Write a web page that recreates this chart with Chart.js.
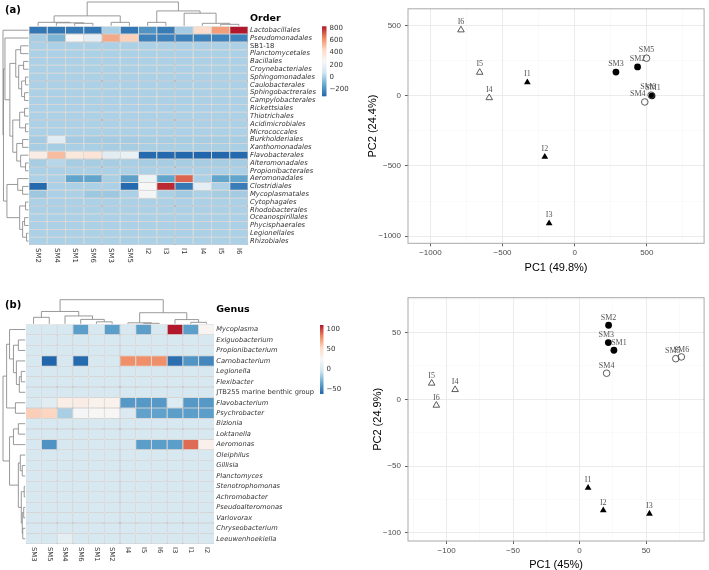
<!DOCTYPE html>
<html><head><meta charset="utf-8">
<script src="https://cdn.jsdelivr.net/npm/chart.js@4.4.1/dist/chart.umd.min.js"></script>
<style>
html,body{margin:0;padding:0;background:#fff;}
#wrap{position:relative;width:709px;height:570px;overflow:hidden;background:#fff;}
canvas{position:absolute;}
.panel{position:absolute;font:bold 10px 'DejaVu Sans',sans-serif;line-height:10px;color:#000;}
</style></head><body>
<div id="wrap">
<canvas id="heatA" width="352" height="285" style="left:0;top:0"></canvas>
<canvas id="heatB" width="352" height="285" style="left:0;top:285px"></canvas>
<canvas id="pcaA" width="369" height="285" style="left:340px;top:0"></canvas>
<canvas id="pcaB" width="369" height="285" style="left:340px;top:285px"></canvas>
<div class="panel" style="left:5px;top:5px">(a)</div>
<div class="panel" style="left:5px;top:300px">(b)</div>
</div>
<script>
// ---------------- DATA ----------------
const orderRows = ['Lactobacillales','Pseudomonadales','SB1-18','Planctomycetales','Bacillales','Croynebacteriales','Sphingomonadales','Caulobacterales','Sphingobactrerales','Campylobacterales','Rickettsiales','Thiotrichales','Acidimicrobiales','Micrococcales','Burkholderiales','Xanthomonadales','Flavobacterales','Alteromonadales','Propionibacterales','Aeromonadales','Clostridiales','Mycoplasmatales','Cytophagales','Rhodobacterales','Oceanospirillales','Phycisphaerales','Legionellales','Rhizobiales'];
const orderCols = ['SM2','SM4','SM1','SM6','SM3','SM5','I2','I3','I1','I4','I5','I6'];
const orderValues = [
  [-265,-270,-260,-265,-5,-265,-185,-255,-15,430,590,828],
  [-10,-85,255,165,565,470,-235,-235,-235,-235,-235,-235],
  [0,0,0,0,0,0,0,0,0,0,0,0],
  [0,0,0,0,0,0,0,0,0,0,0,0],
  [0,0,0,0,0,0,0,0,0,0,0,0],
  [0,0,0,0,0,0,0,0,0,0,0,0],
  [0,0,0,0,0,0,0,0,0,0,0,0],
  [0,0,0,0,0,0,0,0,0,0,0,0],
  [0,0,0,0,0,0,0,0,0,0,0,0],
  [0,0,0,0,0,0,0,0,0,0,0,0],
  [0,0,0,0,0,0,0,0,0,0,0,0],
  [0,0,0,0,0,0,0,0,0,0,0,0],
  [0,0,0,0,0,0,0,0,0,0,0,0],
  [0,0,0,0,0,0,0,0,0,0,0,0],
  [-15,150,-15,-15,-15,-15,-10,-10,-10,-10,-10,-10],
  [-10,-10,-5,-5,-10,-10,-5,-5,-5,-5,-5,-5],
  [330,520,360,390,150,190,-300,-305,-310,-315,-310,-305],
  [-10,20,-10,-10,-10,-5,-10,-10,-10,-10,-10,-10],
  [0,0,0,0,0,0,0,0,0,0,0,0],
  [0,0,-140,-140,-5,-150,210,-140,700,0,-140,-140],
  [-305,0,0,0,0,-305,255,800,-260,165,0,-250],
  [-30,0,0,-25,-25,0,240,0,-20,0,-10,-15],
  [0,0,0,0,0,0,0,0,0,0,0,0],
  [0,0,0,0,0,0,0,0,0,0,0,0],
  [0,0,0,0,0,0,0,0,0,0,0,0],
  [0,0,0,0,0,0,0,0,0,0,0,0],
  [0,0,0,0,0,0,0,0,0,0,0,0],
  [0,0,0,0,0,0,0,0,0,0,0,0]
];
const orderLegendTicks = [-200,0,200,400,600,800];
// dendrograms: [left, right, height]; leaves are row/column indices
const orderColTree = [[[0,[1,[2,3,2.5],3],3.5],[4,5,3.5],10],[[6,7,3.5],[8,[9,[10,11,1.5],2.5],12.7],15],24];
const orderRowTree = [0,[[1,[[[2,3,8],[[4,5,5],[[6,7,3],[8,9,4],7],10],13],[[[10,11,4],[12,13,3],9],[[14,15,6],[16,[17,18,3],8],12],16],19],24],[[19,[20,21,6],11],[[22,23,3],[[24,25,4],[26,27,2],6],9],22],25.5],26];

const genusRows = ['Mycoplasma','Exiguobacterium','Propionibacterium','Carnobacterium','Legionella','Flexibacter','JTB255 marine benthic group','Flavobacterium','Psychrobacter','Bizionia','Loktanella','Aeromonas','Oleiphilus','Gillisia','Planctomyces','Stenotrophomonas','Achromobacter','Pseudoalteromonas','Variovorax','Chryseobacterium','Leeuwenhoekiella'];
const genusCols = ['SM3','SM5','SM4','SM6','SM1','SM2','I4','I5','I6','I3','I1','I2'];
const genusValues = [
  [0,0,0,-38,0,-38,0,-38,0,111,-38,28],
  [0,0,0,0,0,0,0,0,0,0,0,0],
  [0,0,0,0,0,0,0,0,0,0,0,0],
  [0,-62,0,-60,0,0,80,80,80,-58,-42,-48],
  [0,0,0,0,0,0,0,0,0,0,0,0],
  [0,0,0,0,0,0,0,0,0,0,0,0],
  [0,0,0,0,0,0,0,0,0,0,0,0],
  [2,8,35,36,31,31,-40,-40,-40,5,-40,-40],
  [58,55,-15,22,26,26,3,-36,-36,-38,-38,-38],
  [0,0,0,0,0,0,0,0,0,0,0,0],
  [0,0,0,0,0,0,0,0,0,0,0,0],
  [0,-43,0,0,0,0,0,-38,-38,-38,90,32],
  [0,0,0,0,0,0,0,0,0,0,0,0],
  [0,0,0,0,0,0,0,0,0,0,0,0],
  [0,0,0,0,0,0,0,0,0,0,0,0],
  [0,0,0,0,0,0,0,0,0,0,0,0],
  [0,0,0,0,0,0,0,0,0,0,0,0],
  [0,0,0,0,0,0,0,0,0,0,0,0],
  [0,0,0,0,0,0,0,0,0,0,0,0],
  [0,0,0,0,0,0,0,0,0,0,0,0],
  [0,0,10,0,0,0,0,0,0,0,0,0]
];
const genusLegendTicks = [-50,0,50,100];
const genusColTree = [[[0,1,6.6],[2,[3,[4,5,2],4.5],8],12.6],[[6,[7,8,0.5],1],[9,[10,11,1.5],4.3],11.3],24.6];
const genusRowTree = [[[0,[[1,2,7],[3,[[4,5,4],6,6],9],12],16],[7,8,10],19],[[[9,10,7],11,12],[[12,[13,14,3],5],[[15,16,1],[[17,18,1.5],[19,20,2.5],3],4],7],16],22.7];

const sampleNames  = ['SM1','SM2','SM3','SM4','SM5','SM6','I1','I2','I3','I4','I5','I6'];
const sampleGroup  = ['SM','SM','SM','SM','SM','SM','I','I','I','I','I','I'];
const sampleFilled = [1,1,1,0,0,0,1,1,1,0,0,0];
const orderPC1 = [536,436,286,486,498,530,-328,-207,-177,-592,-658,-788];
const orderPC2 = [0,206,169,-44,268,5,96,-435,-909,-14,167,469];
const genusPC1 = [25.8,21.8,21.6,20.3,72.3,76.5,6.4,17.8,52.5,-93.6,-111.2,-107.7];
const genusPC2 = [36.7,55.4,42.4,19.5,30.4,31.7,-66.2,-83.1,-85.6,7.2,12,-4.5];
const orderXMajor = [-1000,-500,0,500], orderXMinor = [-750,-250,250,750];
const orderYMajor = [-1000,-500,0,500], orderYMinor = [-750,-250,250];
const genusXMajor = [-100,-50,0,50], genusXMinor = [-125,-75,-25,25,75];
const genusYMajor = [-100,-50,0,50], genusYMinor = [-75,-25,25,75];

// ---------------- HELPERS ----------------
const palette = ['#2166AC','#67A9CF','#D1E5F0','#F7F7F7','#FDDBC7','#EF8A62','#B2182B'];
function hex(h){return [parseInt(h.slice(1,3),16),parseInt(h.slice(3,5),16),parseInt(h.slice(5,7),16)];}
function colorFor(v,min,max){
  let t=(v-min)/(max-min); t=Math.max(0,Math.min(1,t));
  const s=t*(palette.length-1); const i=Math.min(palette.length-2,Math.floor(s)); const f=s-i;
  const a=hex(palette[i]), b=hex(palette[i+1]);
  return 'rgb('+a.map((c,k)=>Math.round(c+(b[k]-c)*f)).join(',')+')';
}
const fmt = v => v<0 ? '\u2212'+Math.abs(v) : String(v);
const uprightLabels = ['SB1-18','JTB255 marine benthic group'];

function heatChart(id, rows, cols, vals, legendTicks, colTree, rowTree, o){
  const flat = vals.flat(); const vmin=Math.min(...flat), vmax=Math.max(...flat);
  const datasets = rows.map((r,i)=>({
    label:r, data: cols.map(()=>1),
    backgroundColor: vals[i].map(v=>colorFor(v,vmin,vmax)),
    borderColor:'#a3a3a3', borderWidth:0.5, borderSkipped:false, inflateAmount:0,
    barPercentage:1, categoryPercentage:1
  }));
  const extras = {
    id:'heatExtras',
    afterDraw(chart){
      const ctx=chart.ctx, ca=chart.chartArea, xs=chart.scales.x, ys=chart.scales.yRows;
      ctx.save();
      ctx.strokeStyle='#8d8d8d'; ctx.lineWidth=0.9;
      const colMax=colTree[2], rowMax=rowTree[2];
      const colY = h => ca.top - 0.5 - h/colMax*(ca.top - 0.5 - o.treeTop);
      const rowX = h => ca.left - 0.5 - h/rowMax*(ca.left - 0.5 - o.treeLeft);
      function tree(node, posOf, hOf, vertical){
        if (typeof node === 'number') return {p:posOf(node), h:0};
        const a=tree(node[0],posOf,hOf,vertical), b=tree(node[1],posOf,hOf,vertical), H=node[2];
        ctx.beginPath();
        if (vertical){ ctx.moveTo(a.p,hOf(a.h)); ctx.lineTo(a.p,hOf(H)); ctx.lineTo(b.p,hOf(H)); ctx.lineTo(b.p,hOf(b.h)); }
        else { ctx.moveTo(hOf(a.h),a.p); ctx.lineTo(hOf(H),a.p); ctx.lineTo(hOf(H),b.p); ctx.lineTo(hOf(b.h),b.p); }
        ctx.stroke();
        return {p:(a.p+b.p)/2, h:H};
      }
      tree(colTree, j=>xs.getPixelForValue(j), colY, true);
      tree(rowTree, i=>ys.getPixelForValue(i), rowX, false);
      // column labels (rotated, reading downwards)
      ctx.fillStyle='#333'; ctx.font=o.colFont+'px "DejaVu Sans"'; ctx.textAlign='left'; ctx.textBaseline='middle';
      cols.forEach((c,j)=>{ ctx.save(); ctx.translate(xs.getPixelForValue(j), ca.bottom+3); ctx.rotate(Math.PI/2); ctx.fillText(c,0,0); ctx.restore(); });
      // title
      ctx.font='bold 9.5px "DejaVu Sans"'; ctx.fillStyle='#000'; ctx.textBaseline='alphabetic';
      ctx.fillText(o.title, ca.right+2, o.titleY);
      // colour bar
      const top=o.cbTop, bot=o.cbBottom;
      const g=ctx.createLinearGradient(0,bot,0,top);
      palette.forEach((c,k)=>g.addColorStop(k/(palette.length-1),c));
      ctx.fillStyle=g; ctx.fillRect(o.cbX, top, o.cbW, bot-top);
      ctx.fillStyle='#333'; ctx.font='7px "DejaVu Sans"'; ctx.textBaseline='middle'; ctx.textAlign='left';
      legendTicks.forEach(v=>{ const y=top+(vmax-v)/(vmax-vmin)*(bot-top); ctx.fillText(fmt(v), o.cbX+o.cbW+3, y); });
      ctx.restore();
    }
  };
  return new Chart(document.getElementById(id), {
    type:'bar',
    data:{labels:cols, datasets},
    options:{
      responsive:false, animation:false, events:[],
      layout:{padding:{left:o.left, top:o.top, bottom:o.bottom, right:0}},
      plugins:{legend:{display:false}, tooltip:{enabled:false}},
      scales:{
        x:{display:false, stacked:true, offset:true},
        y:{display:false, stacked:true, min:0, max:rows.length, reverse:true},
        yRows:{type:'category', axis:'y', labels:rows, position:'right', offset:true,
          grid:{display:false, drawTicks:false}, border:{display:false},
          ticks:{padding:2, autoSkip:false, color:'#333',
            font: c => ({family:'DejaVu Sans', size:o.rowFont, style: (c.tick && uprightLabels.includes(c.tick.label)) ? 'normal':'italic'})},
          afterFit: s => { s.width = o.axisW; }
        }
      }
    },
    plugins:[extras]
  });
}

function pcaChart(id, pc1, pc2, ax){
  const pts = sampleNames.map((n,i)=>({x:pc1[i], y:pc2[i], name:n, g:sampleGroup[i], f:sampleFilled[i]}));
  const pick = (g,f) => pts.filter(p=>p.g===g && p.f===f);
  const openC='#4a4a4a';
  const datasets = [
    {data:pick('SM',0), pointStyle:'circle', pointRadius:3.3, pointBackgroundColor:'rgba(255,255,255,0)', pointBorderColor:openC, pointBorderWidth:0.9},
    {data:pick('I',0), pointStyle:'triangle', pointRadius:3.8, pointBackgroundColor:'rgba(255,255,255,0)', pointBorderColor:openC, pointBorderWidth:0.9},
    {data:pick('SM',1), pointStyle:'circle', pointRadius:3.4, pointBackgroundColor:'#000', pointBorderColor:'#000', pointBorderWidth:0},
    {data:pick('I',1), pointStyle:'triangle', pointRadius:3.9, pointBackgroundColor:'#000', pointBorderColor:'#000', pointBorderWidth:0}
  ];
  const frame = {id:'frame', beforeDatasetsDraw(chart){const {ctx,chartArea:a}=chart; ctx.save(); ctx.strokeStyle='#a9a9a9'; ctx.lineWidth=1; ctx.strokeRect(a.left,a.top,a.right-a.left,a.bottom-a.top); ctx.restore();}};
  const labels = {id:'ptLabels', afterDatasetsDraw(chart){
    const ctx=chart.ctx; ctx.save(); ctx.font='8px "Liberation Serif"'; ctx.fillStyle='#555'; ctx.textAlign='center'; ctx.textBaseline='middle';
    chart.data.datasets.forEach((ds,di)=>{ chart.getDatasetMeta(di).data.forEach((el,i)=>{
      const n=ds.data[i].name; const d=ax.nudge[n]||[0,0];
      ctx.fillText(n, el.x+d[0], el.y-ax.labelUp+d[1]); }); });
    ctx.restore(); }};
  const axis = (major, minor, min, max, isX) => ({
    type:'linear', min, max, position: isX?'bottom':'left',
    afterBuildTicks: s => { s.ticks = major.concat(minor).sort((a,b)=>a-b).map(v=>({value:v})); },
    afterFit: s => { if(isX) s.height = ax.xH; else s.width = ax.yW; },
    grid:{ color: c => (c.tick && major.includes(c.tick.value)) ? '#e9e9e9' : '#f4f4f4',
           lineWidth: c => (c.tick && major.includes(c.tick.value)) ? 0.9 : 0.5,
           tickColor: c => (c.tick && major.includes(c.tick.value)) ? '#333' : 'rgba(0,0,0,0)',
           tickLength:3, tickWidth:0.8 },
    border:{display:false},
    ticks:{autoSkip:false, maxRotation:0, padding: isX?2:4, color:'#4d4d4d', font:{family:'Liberation Sans', size:8},
           callback: v => major.includes(v) ? fmt(v) : ''},
    title:{display:true, text: isX?ax.xTitle:ax.yTitle, color:'#000', font:{family:'Liberation Sans', size:11, lineHeight:1},
           padding: isX ? {top:0,bottom:ax.xTitlePad} : {top:ax.yTitlePad,bottom:0}}
  });
  return new Chart(document.getElementById(id), {
    type:'scatter', data:{datasets},
    options:{
      responsive:false, animation:false, events:[],
      layout:{padding:{left:0, top:ax.padTop, right:1, bottom:0}},
      plugins:{legend:{display:false}, tooltip:{enabled:false}},
      scales:{
        x: axis(ax.xMajor, ax.xMinor, ax.xmin, ax.xmax, true),
        y: axis(ax.yMajor, ax.yMinor, ax.ymin, ax.ymax, false)
      }
    },
    plugins:[frame, labels]
  });
}

// ---------------- CHARTS ----------------
heatChart('heatA', orderRows, orderCols, orderValues, orderLegendTicks, orderColTree, orderRowTree,
  {left:29, top:26.3, bottom:40, axisW:104, treeTop:2, treeLeft:3, colFont:7, rowFont:6.8,
   title:'Order', titleY:20.7, cbX:322, cbW:4.5, cbTop:26.3, cbBottom:96.3});
heatChart('heatB', genusRows, genusCols, genusValues, genusLegendTicks, genusColTree, genusRowTree,
  {left:25.7, top:39.3, bottom:26, axisW:137.7, treeTop:14.7, treeLeft:3, colFont:6.8, rowFont:6.7,
   title:'Genus', titleY:26.5, cbX:320, cbW:3.5, cbTop:40, cbBottom:109});
pcaChart('pcaA', orderPC1, orderPC2,
  {xmin:-1155, xmax:897, ymin:-1051, ymax:620, xMajor:orderXMajor, xMinor:orderXMinor, yMajor:orderYMajor, yMinor:orderYMinor,
   xTitle:'PC1 (49.8%)', yTitle:'PC2 (24.4%)', xH:41.7, yW:68, padTop:0.5, xTitlePad:11.5, yTitlePad:27.5, labelUp:8,
   nudge:{SM4:[-7,0], SM6:[-3,0], SM1:[1,0]}});
pcaChart('pcaB', genusPC1, genusPC2,
  {xmin:-129, xmax:93.6, ymin:-106, ymax:76, xMajor:genusXMajor, xMinor:genusXMinor, yMajor:genusYMajor, yMinor:genusYMinor,
   xTitle:'PC1 (45%)', yTitle:'PC2 (24.9%)', xH:29, yW:68, padTop:12.7, xTitlePad:0, yTitlePad:32.5, labelUp:7.5,
   nudge:{SM1:[5,0], SM3:[-2,0], SM5:[-3,0]}});
</script>
</body></html>
